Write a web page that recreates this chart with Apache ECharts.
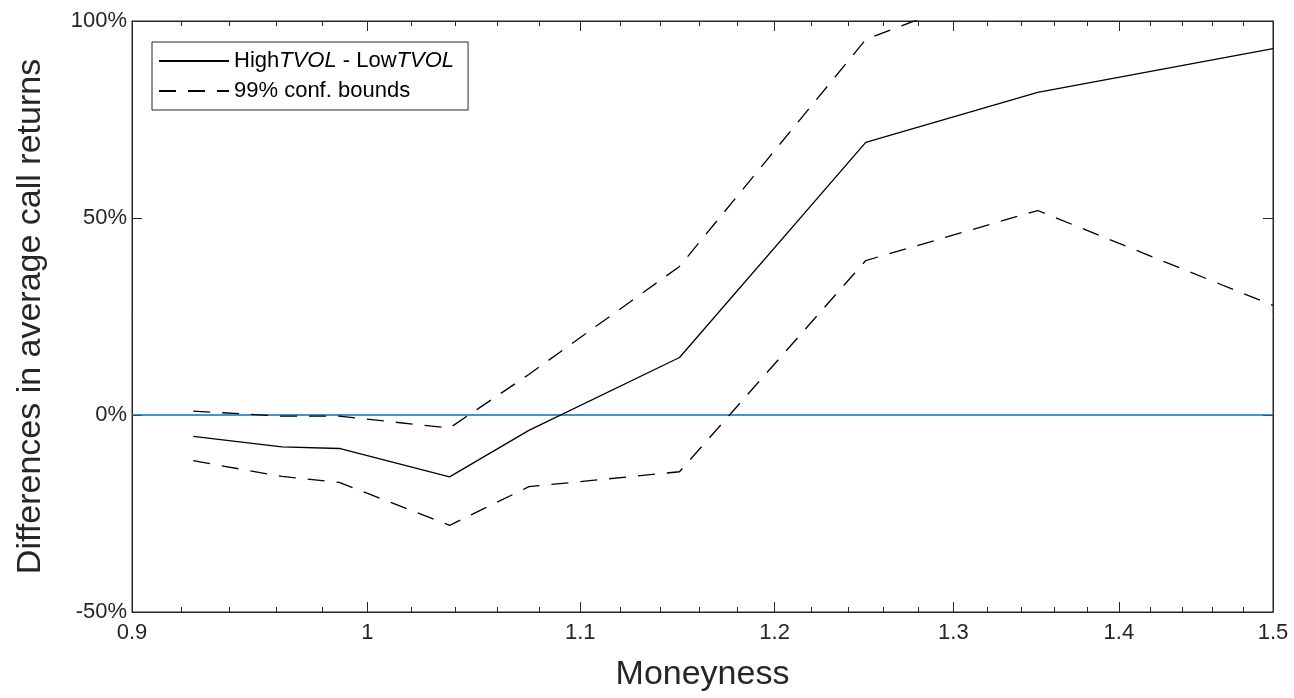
<!DOCTYPE html>
<html>
<head>
<meta charset="utf-8">
<script src="https://cdn.jsdelivr.net/npm/echarts@6/dist/echarts.min.js"></script>
<style>
html,body{margin:0;padding:0;background:#fff;}
#c{width:1294px;height:698px;}
</style>
</head>
<body>
<div id="c"></div>
<script>
// Data (moneyness on x, percent on y)
var moneyness = [0.925, 0.9625, 0.9875, 1.0375, 1.075, 1.15, 1.25, 1.35, 1.5];
var diffReturns = [-5.4, -8.1, -8.5, -15.7, -3.9, 14.6, 69.2, 81.9, 93.0];
var lowerBound = [-11.6, -15.6, -17.1, -28.0, -18.2, -14.4, 39.2, 51.9, 27.8];
var upperBound = [1.0, -0.3, -0.3, -3.3, 10.3, 37.7, 95.3, 112, 158];
var zeroLineX = [0.9, 1.5];
var zeroLineY = [0, 0];
var xMajorTicks = [0.9, 1, 1.1, 1.2, 1.3, 1.4, 1.5];
var xMinorTicks = [0.92, 0.94, 0.96, 0.98, 1.02, 1.04, 1.06, 1.08, 1.12, 1.14, 1.16, 1.18,
  1.22, 1.24, 1.26, 1.28, 1.32, 1.34, 1.36, 1.38, 1.42, 1.44, 1.46, 1.48];
var yTicks = [-50, 0, 50, 100];

function pairs(xs, ys) { return xs.map(function (x, i) { return [x, ys[i]]; }); }

var FONT = 'Liberation Sans, Arial, Helvetica, sans-serif';
var AX = '#262626';

var chart = echarts.init(document.getElementById('c'), null, {renderer: 'canvas'});
var baseX = {
  type: 'log', logBase: 10, min: 0.9, max: 1.5, gridIndex: 0,
  splitLine: {show: false}, minorTick: {show: false}, minorSplitLine: {show: false}
};
chart.setOption({
  animation: false,
  backgroundColor: '#ffffff',
  grid: {left: 132, right: 21, top: 21, bottom: 86, show: true, borderColor: AX, borderWidth: 1, backgroundColor: 'transparent'},
  legend: {
    data: ['HighTVOL - LowTVOL', '99% conf. bounds'],
    orient: 'vertical', left: 152, top: 42,
    borderColor: AX, borderWidth: 1, padding: [8, 14, 8, 6],
    itemWidth: 70, itemHeight: 14, itemGap: 8,
    selectedMode: false,
    itemStyle: {opacity: 0},
    textStyle: {
      fontFamily: FONT, fontSize: 22, color: '#000',
      rich: {
        n: {fontFamily: FONT, fontSize: 22, color: '#000'},
        i: {fontFamily: FONT, fontSize: 22, color: '#000', fontStyle: 'italic'}
      }
    },
    formatter: function (name) {
      if (name === 'HighTVOL - LowTVOL') return '{n|High}{i|TVOL}{n| - Low}{i|TVOL}';
      return '{n|' + name + '}';
    }
  },
  xAxis: [
    Object.assign({}, baseX, {
      position: 'bottom',
      name: 'Moneyness', nameLocation: 'middle', nameGap: 46,
      nameTextStyle: {fontFamily: FONT, fontSize: 34, color: AX},
      axisLine: {show: true, onZero: false, lineStyle: {color: AX, width: 1}},
      axisTick: {show: true, inside: true, length: 10, customValues: xMajorTicks, lineStyle: {color: AX}},
      axisLabel: {show: true, customValues: xMajorTicks, margin: 10, fontFamily: FONT, fontSize: 22, color: AX,
        formatter: function (v) { return String(+(+v).toFixed(2)); }}
    }),
    Object.assign({}, baseX, {
      position: 'bottom',
      axisLine: {show: false, onZero: false},
      axisTick: {show: true, inside: true, length: 5, customValues: xMinorTicks, lineStyle: {color: AX}},
      axisLabel: {show: false}
    }),
    Object.assign({}, baseX, {
      position: 'top',
      axisLine: {show: true, onZero: false, lineStyle: {color: AX, width: 1}},
      axisTick: {show: true, inside: true, length: 10, customValues: xMajorTicks, lineStyle: {color: AX}},
      axisLabel: {show: false}
    }),
    Object.assign({}, baseX, {
      position: 'top',
      axisLine: {show: false, onZero: false},
      axisTick: {show: true, inside: true, length: 5, customValues: xMinorTicks, lineStyle: {color: AX}},
      axisLabel: {show: false}
    })
  ],
  yAxis: [
    {
      type: 'value', min: -50, max: 100, interval: 50, position: 'left',
      name: 'Differences in average call returns', nameLocation: 'middle', nameGap: 84,
      nameTextStyle: {fontFamily: FONT, fontSize: 34, color: AX},
      axisLine: {show: true, onZero: false, lineStyle: {color: AX, width: 1}},
      axisTick: {show: true, inside: true, length: 10, lineStyle: {color: AX}},
      axisLabel: {fontFamily: FONT, fontSize: 22, color: AX, margin: 5, formatter: '{value}%'},
      splitLine: {show: false}
    },
    {
      type: 'value', min: -50, max: 100, interval: 50, position: 'right',
      axisLine: {show: true, onZero: false, lineStyle: {color: AX, width: 1}},
      axisTick: {show: true, inside: true, length: 10, lineStyle: {color: AX}},
      axisLabel: {show: false},
      splitLine: {show: false}
    }
  ],
  series: [
    {
      name: 'zero', type: 'line', xAxisIndex: 0, yAxisIndex: 0,
      data: pairs(zeroLineX, zeroLineY), symbol: 'none', silent: true,
      lineStyle: {color: '#0072BD', width: 1.5}, z: 2
    },
    {
      name: 'HighTVOL - LowTVOL', type: 'line', xAxisIndex: 0, yAxisIndex: 0,
      data: pairs(moneyness, diffReturns), symbol: 'none',
      lineStyle: {color: '#000', width: 1.3, type: 'solid'},
      itemStyle: {color: '#000'}, z: 3
    },
    {
      name: '99% conf. bounds', type: 'line', xAxisIndex: 0, yAxisIndex: 0,
      data: pairs(moneyness, upperBound), symbol: 'none', clip: true,
      lineStyle: {color: '#000', width: 1.3, type: [17, 12]},
      itemStyle: {color: '#000'}, z: 3
    },
    {
      name: '99% conf. bounds', type: 'line', xAxisIndex: 0, yAxisIndex: 0,
      data: pairs(moneyness, lowerBound), symbol: 'none', clip: true,
      lineStyle: {color: '#000', width: 1.3, type: [17, 12]},
      itemStyle: {color: '#000'}, z: 3
    }
  ]
});
</script>
</body>
</html>
